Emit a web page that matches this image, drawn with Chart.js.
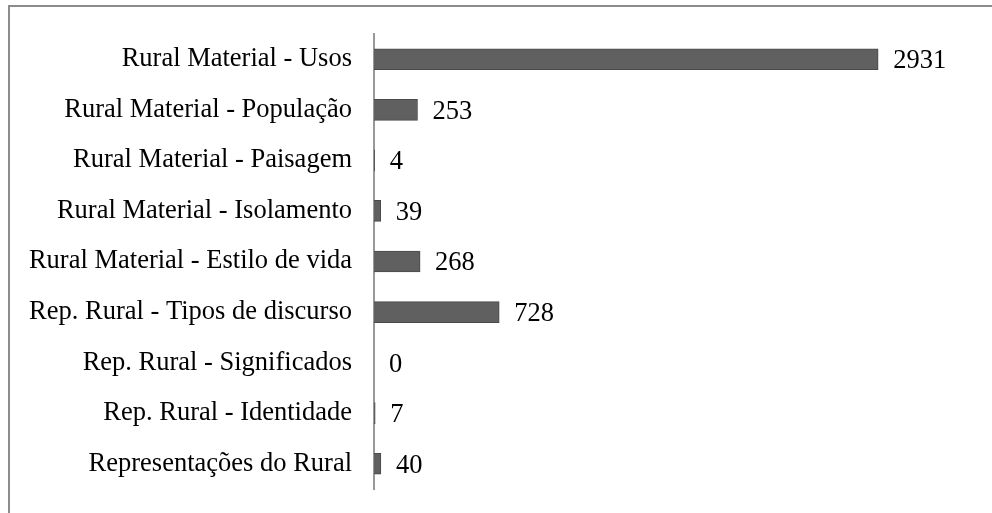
<!DOCTYPE html>
<html>
<head>
<meta charset="utf-8">
<script src="https://cdn.jsdelivr.net/npm/chart.js@4/dist/chart.umd.min.js"></script>
<style>
  html, body { margin: 0; padding: 0; background: #fff; }
  #moldura { position: absolute; left: 8px; top: 5px; width: 1000px; height: 520px; border: 2px solid #8c8c8c; }
  #caixa { position: absolute; left: 0; top: 0; width: 992px; height: 513px; }
</style>
</head>
<body>
<div id="moldura"></div>
<div id="caixa"><canvas id="grafica"></canvas></div>
<script>
// categorias e valores (de cima para baixo)
const categorias = [
    "Rural Material - Usos",
    "Rural Material - População",
    "Rural Material - Paisagem",
    "Rural Material - Isolamento",
    "Rural Material - Estilo de vida",
    "Rep. Rural - Tipos de discurso",
    "Rep. Rural - Significados",
    "Rep. Rural - Identidade",
    "Representações do Rural"
];
const valores = [2931, 253, 4, 39, 268, 728, 0, 7, 40];

const fonte = "'Liberation Serif', 'Times New Roman', serif";

// escreve o valor a seguir a cada barra
const rotulosValores = {
    id: 'rotulosValores',
    afterDatasetsDraw(chart) {
        const ctx = chart.ctx;
        const meta = chart.getDatasetMeta(0);
        ctx.save();
        ctx.font = "26.5px " + fonte;
        ctx.fillStyle = "#000";
        ctx.textBaseline = "middle";
        ctx.textAlign = "left";
        meta.data.forEach((barra, i) => {
            ctx.fillText(String(valores[i]), barra.x + 15, barra.y + 2);
        });
        ctx.restore();
    }
};

const ctx = document.getElementById('grafica').getContext('2d');
const miGrafica = new Chart(ctx, {
    type: 'bar',
    data: {
        labels: categorias,
        datasets: [{
            data: valores,
            backgroundColor: '#606060',
            borderColor: '#4a4a4a',
            borderWidth: 1,
            barThickness: 21
        }]
    },
    options: {
        indexAxis: 'y',
        responsive: true,
        maintainAspectRatio: false,
        animation: false,
        layout: { padding: { top: 34, bottom: 24, right: 16, left: 0 } },
        plugins: { legend: { display: false }, tooltip: { enabled: false } },
        scales: {
            x: { display: false, min: 0, max: 3500 },
            y: {
                grid: { display: false, drawTicks: false },
                border: { display: true, color: '#999999', width: 2 },
                ticks: { color: '#000', padding: 22, font: { family: fonte, size: 26.5 } },
                afterFit(scale) {
                    scale.width = 374;
                    scale.paddingTop = 0;
                    scale.paddingBottom = 0;
                }
            }
        }
    },
    plugins: [rotulosValores]
});
</script>
</body>
</html>
